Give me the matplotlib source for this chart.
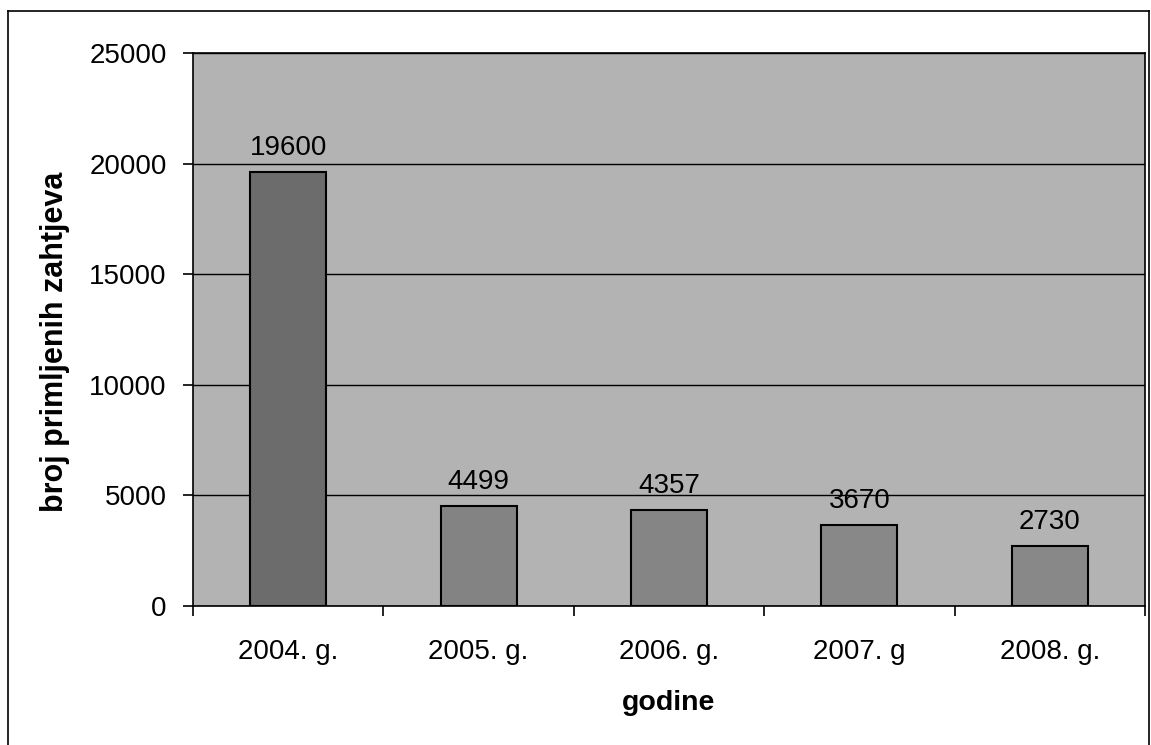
#!/usr/bin/env python3

import matplotlib
matplotlib.use('Agg')
import matplotlib.pyplot as plt
from matplotlib.lines import Line2D

years = ['2004. g.', '2005. g.', '2006. g.', '2007. g', '2008. g.']
requests = [19600, 4499, 4357, 3670, 2730]
bar_colors = ['#6c6c6c', '#838383', '#858585', '#888888', '#888888']
y_ticks = [0, 5000, 10000, 15000, 20000, 25000]

plt.rcParams['font.family'] = ['Liberation Sans', 'DejaVu Sans']

fig = plt.figure(figsize=(11.51, 7.45), dpi=100)
ax = fig.add_axes([193 / 1151, 1 - 606 / 745, 952 / 1151, 553 / 745])
ax.set_facecolor('#b3b3b3')

x = list(range(len(years)))
bars = ax.bar(x, requests, width=0.4, color=bar_colors, edgecolor='black',
              linewidth=1.5, zorder=3)
for b, v in zip(bars, requests):
	ax.text(b.get_x() + b.get_width() / 2, v + 500, str(v), ha='center',
	        va='bottom', fontsize=20, zorder=4)

ax.set_xlim(-0.5, len(years) - 0.5)
ax.set_ylim(0, 25000)
ax.set_yticks(y_ticks)
ax.set_yticklabels([str(t) for t in y_ticks], fontsize=20)
ax.yaxis.grid(True, color='black', linewidth=1, zorder=1)
ax.set_axisbelow(True)

ax.set_xticks(x)
ax.set_xticklabels(years, fontsize=20)
ax.set_xticks([i - 0.5 for i in range(len(years) + 1)], minor=True)
ax.tick_params(axis='x', which='major', length=0, pad=24)
ax.tick_params(axis='x', which='minor', length=7, width=1.2, direction='out')
ax.tick_params(axis='y', length=7, width=1.2, direction='out', pad=12)

for s in ax.spines.values():
	s.set_linewidth(1.2)

ax.set_xlabel('godine', fontsize=20.5, fontweight='bold')
ax.xaxis.set_label_coords(0.5, -(703 - 606) / 553, transform=ax.transAxes)
ax.xaxis.label.set_va('center')
ax.set_ylabel('broj primljenih zahtjeva', fontsize=22, fontweight='bold')
ax.yaxis.set_label_coords(-(193 - 55) / 952, 1 - (342 - 53) / 553, transform=ax.transAxes)
ax.yaxis.label.set_va('center')

# outer chart border
fig.add_artist(Line2D([8 / 1151, 8 / 1151], [0, 1 - 11 / 745], color='black', linewidth=1.2))
fig.add_artist(Line2D([8 / 1151, 1149 / 1151], [1 - 11 / 745, 1 - 11 / 745], color='black', linewidth=1.2))
fig.add_artist(Line2D([1149 / 1151, 1149 / 1151], [0, 1 - 11 / 745], color='black', linewidth=1.2))

fig.savefig('out.png', dpi=100)
